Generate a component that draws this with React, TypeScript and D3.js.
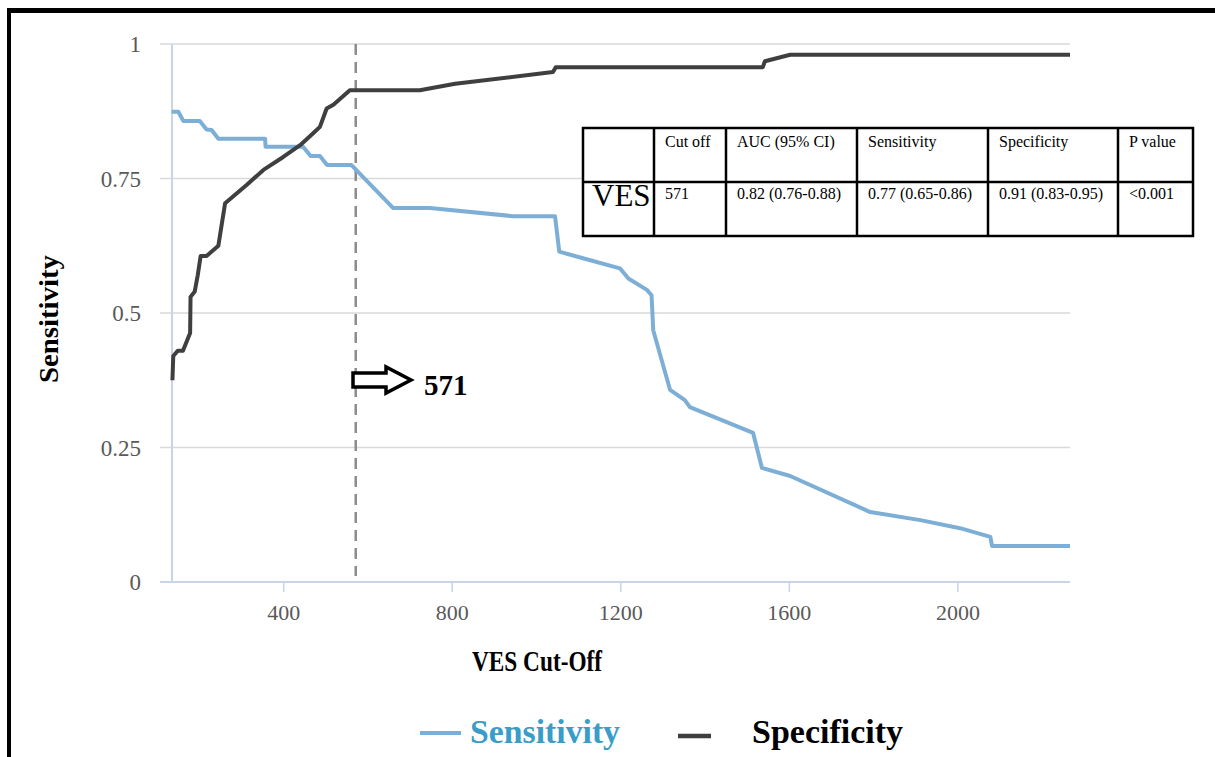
import React from 'react';
import * as d3 from 'd3';

// sensitivity curve (VES cut-off vs sensitivity)
const sensCutoff = [134, 150, 162, 201, 217, 229, 245, 356, 357, 446, 464, 486, 503, 561, 660, 747, 944, 1044, 1054, 1119, 1198, 1218, 1262, 1273, 1277, 1317, 1352, 1364, 1514, 1535, 1602, 1792, 1911, 2005, 2077, 2081, 2266];
const sensValues = [0.874, 0.874, 0.857, 0.857, 0.841, 0.840, 0.824, 0.824, 0.809, 0.809, 0.792, 0.792, 0.775, 0.775, 0.695, 0.695, 0.68, 0.68, 0.614, 0.6, 0.583, 0.564, 0.543, 0.533, 0.468, 0.357, 0.338, 0.325, 0.277, 0.212, 0.197, 0.13, 0.115, 0.1, 0.084, 0.067, 0.067];

// specificity curve
const specCutoff = [136, 138, 149, 161, 178, 179, 189, 196, 203, 217, 245, 261, 312, 352, 399, 439, 470, 486, 502, 518, 557, 723, 807, 1039, 1046, 1537, 1542, 1602, 2266];
const specValues = [0.375, 0.42, 0.43, 0.43, 0.463, 0.53, 0.54, 0.57, 0.606, 0.606, 0.625, 0.704, 0.738, 0.766, 0.79, 0.812, 0.834, 0.846, 0.88, 0.887, 0.914, 0.914, 0.926, 0.948, 0.957, 0.957, 0.968, 0.98, 0.98];

const xTicks = [400, 800, 1200, 1600, 2000];
const yTicks = [0, 0.25, 0.5, 0.75, 1];
const yTickLabels = ['0', '0.25', '0.5', '0.75', '1'];

const cutoff = 571;

const tableHeader = ['', 'Cut off', 'AUC (95% CI)', 'Sensitivity', 'Specificity', 'P value'];
const tableRow = ['VES', '571', '0.82 (0.76-0.88)', '0.77 (0.65-0.86)', '0.91 (0.83-0.95)', '<0.001'];

const W = 1215;
const H = 757;
const serif = '"Liberation Serif", "DejaVu Serif", serif';

const App = () => {
    const x = d3.scaleLinear().domain([135, 2266]).range([172, 1070]);
    const y = d3.scaleLinear().domain([0, 1]).range([582, 44]);

    const line = d3.line<[number, number]>()
        .x(d => x(d[0]))
        .y(d => y(d[1]));

    const sens = sensCutoff.map((c, i) => [c, sensValues[i]] as [number, number]);
    const spec = specCutoff.map((c, i) => [c, specValues[i]] as [number, number]);

    // table layout
    const colX = [583, 654, 726, 857, 988, 1118, 1193];
    const rowY = [128, 182, 236];

    return (
        <svg width={W} height={H} style={{ position: 'absolute', left: 0, top: 0, background: '#fff' }}>
            {/* frame */}
            <line x1={7} y1={10.5} x2={W} y2={10.5} stroke="#000" strokeWidth={5} />
            <line x1={9} y1={8} x2={9} y2={H} stroke="#000" strokeWidth={4} />

            {/* grid */}
            {yTicks.filter(t => t > 0).map(t => (
                <line key={t} x1={160} x2={1070} y1={y(t)} y2={y(t)} stroke="#d9d9d9" strokeWidth={1.5} />
            ))}
            {/* axes */}
            <line x1={172} x2={172} y1={y(1)} y2={y(0)} stroke="#c9d5e6" strokeWidth={2} />
            <line x1={160} x2={1070} y1={y(0)} y2={y(0)} stroke="#c9d5e6" strokeWidth={2} />
            {xTicks.map(t => (
                <g key={t}>
                    <line x1={x(t)} x2={x(t)} y1={y(0)} y2={y(0) + 10} stroke="#c9d5e6" strokeWidth={1.5} />
                    <text x={x(t)} y={620} textAnchor="middle" fontFamily={serif} fontSize={22} fill="#595959">{t}</text>
                </g>
            ))}
            {yTicks.map((t, i) => (
                <text key={t} x={141} y={y(t) + 8} textAnchor="end" fontFamily={serif} fontSize={23} fill="#595959">{yTickLabels[i]}</text>
            ))}

            {/* cut-off marker */}
            <line x1={x(cutoff)} x2={x(cutoff)} y1={y(1)} y2={y(0) - 6} stroke="#8c8c8c" strokeWidth={2.5} strokeDasharray="11 7" />

            {/* curves */}
            <path d={line(sens) || ''} fill="none" stroke="#7dafd6" strokeWidth={4} strokeLinejoin="round" />
            <path d={line(spec) || ''} fill="none" stroke="#3f3f3f" strokeWidth={4} strokeLinejoin="round" />

            {/* arrow */}
            <path d="M353,373 L386,373 L386,367 L411,380 L386,393 L386,387 L353,387 Z" fill="#fff" stroke="#000" strokeWidth={3.5} strokeLinejoin="miter" />
            <text x={424} y={395} fontFamily={serif} fontSize={29} fontWeight="bold" fill="#000">{cutoff}</text>

            {/* table */}
            <rect x={colX[0]} y={rowY[0]} width={colX[6] - colX[0]} height={rowY[2] - rowY[0]} fill="#fff" stroke="#000" strokeWidth={2.5} />
            <line x1={colX[0]} x2={colX[6]} y1={rowY[1]} y2={rowY[1]} stroke="#000" strokeWidth={2.5} />
            {colX.slice(1, 6).map(cx => (
                <line key={cx} x1={cx} x2={cx} y1={rowY[0]} y2={rowY[2]} stroke="#000" strokeWidth={2.5} />
            ))}
            {tableHeader.map((h, i) => (
                <text key={'h' + i} x={colX[i] + 11} y={147} fontFamily={serif} fontSize={16} fill="#000">{h}</text>
            ))}
            {tableRow.map((v, i) => (
                i === 0
                    ? <text key={'r' + i} x={colX[0] + 9} y={206} fontFamily={serif} fontSize={31} fill="#000">{v}</text>
                    : <text key={'r' + i} x={colX[i] + 11} y={199} fontFamily={serif} fontSize={16} fill="#000">{v}</text>
            ))}

            {/* axis titles */}
            <text transform="translate(58,319) rotate(-90)" textAnchor="middle" fontFamily={serif} fontSize={28} fontWeight="bold" fill="#000" textLength={128} lengthAdjust="spacingAndGlyphs">Sensitivity</text>
            <text x={537} y={671} textAnchor="middle" fontFamily={serif} fontSize={29} fontWeight="bold" fill="#000" textLength={130} lengthAdjust="spacingAndGlyphs">VES Cut-Off</text>

            {/* legend */}
            <line x1={420} x2={461} y1={733} y2={733} stroke="#7dafd6" strokeWidth={4} />
            <text x={470} y={743} fontFamily={serif} fontSize={33} fontWeight="bold" fill="#3a9cc7" textLength={150} lengthAdjust="spacingAndGlyphs">Sensitivity</text>
            <line x1={678} x2={711} y1={736} y2={736} stroke="#3f3f3f" strokeWidth={4.5} />
            <text x={752} y={743} fontFamily={serif} fontSize={33} fontWeight="bold" fill="#000" textLength={151} lengthAdjust="spacingAndGlyphs">Specificity</text>
        </svg>
    );
};

export default App;
